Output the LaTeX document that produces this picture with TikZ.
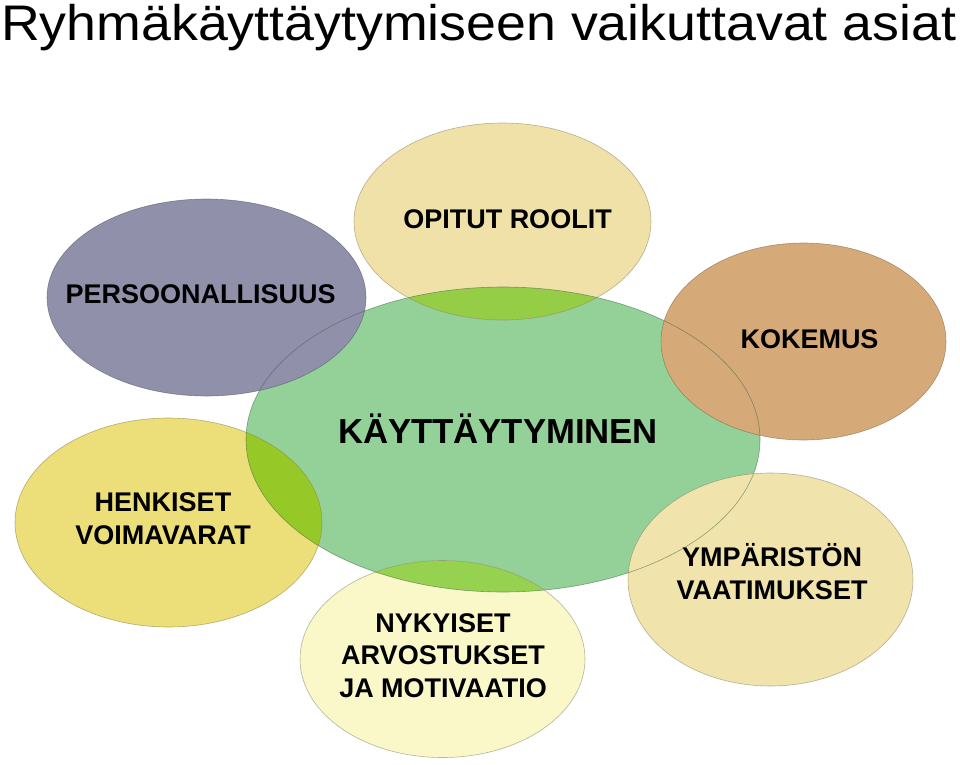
\documentclass[tikz,border=0pt]{standalone}
\usepackage{fontspec}
\setmainfont{Liberation Sans}
\definecolor{cgreen}{RGB}{147,209,153}
\definecolor{cpurple}{RGB}{144,144,170}
\definecolor{ctan}{RGB}{214,170,120}
\definecolor{cbeige}{RGB}{240,225,168}
\definecolor{cbeigeb}{RGB}{240,228,172}
\definecolor{cyellow}{RGB}{236,222,120}
\definecolor{cpale}{RGB}{250,248,200}
\definecolor{ovyellow}{RGB}{150,200,40}
\definecolor{ovbeige}{RGB}{150,205,70}
\definecolor{ovpale}{RGB}{150,210,80}
\tikzset{
  lbl/.style={font=\bfseries\fontsize{27}{32.5}\selectfont, align=center, inner sep=0pt},
  edge/.style={line width=0.6pt, draw opacity=0.55},
}
\newcommand{\ellC}{(503,439.5) ellipse [x radius=257pt, y radius=152.5pt]}
\newcommand{\ellO}{(502.5,221.5) ellipse [x radius=148.5pt, y radius=98.5pt]}
\newcommand{\ellP}{(206.5,297.5) ellipse [x radius=159.5pt, y radius=98.5pt]}
\newcommand{\ellK}{(803.5,341.5) ellipse [x radius=142.5pt, y radius=98.5pt]}
\newcommand{\ellH}{(168.5,522.5) ellipse [x radius=153.5pt, y radius=104.5pt]}
\newcommand{\ellN}{(442.5,659) ellipse [x radius=142.5pt, y radius=98.5pt]}
\newcommand{\ellY}{(770.5,579.5) ellipse [x radius=142.5pt, y radius=106.5pt]}
\begin{document}
\begin{tikzpicture}[x=1pt,y=-1pt]
\useasboundingbox[fill=white] (0,0) rectangle (960,764);
% fills
\fill[cgreen] \ellC;
\fill[cbeige] \ellO;
\fill[cyellow] \ellH;
\fill[cpale] \ellN;
\begin{scope}
  \clip \ellC;
  \fill[ovbeige] \ellO;
  \fill[ovyellow] \ellH;
  \fill[ovpale] \ellN;
\end{scope}
\fill[cpurple] \ellP;
\fill[ctan] \ellK;
\fill[cbeigeb] \ellY;
% outlines
\draw[edge, draw=cgreen!45!black] \ellC;
\draw[edge, draw=cbeige!55!black] \ellO;
\draw[edge, draw=cpurple!55!black] \ellP;
\draw[edge, draw=ctan!55!black] \ellK;
\draw[edge, draw=cyellow!55!black] \ellH;
\draw[edge, draw=cpale!50!black] \ellN;
\draw[edge, draw=cbeigeb!55!black] \ellY;
% texts
\node[anchor=base west, inner sep=0pt, font=\fontsize{50}{60}\selectfont] (title) at (1,40) {\scalebox{1.074}[1]{Ryhmäkäyttäytymiseen vaikuttavat asiat}};
\node[lbl, anchor=base] (opitut) at (507.5,228) {OPITUT ROOLIT};
\node[lbl, anchor=base] (pers) at (200.7,303) {PERSOONALLISUUS};
\node[lbl, anchor=base] (kok) at (809.5,348) {KOKEMUS};
\node[lbl, anchor=base, font=\bfseries\fontsize{34.7}{40}\selectfont] (kayt) at (498,443) {KÄYTTÄYTYMINEN};
\node[lbl, anchor=base] (henk) at (163,544) {HENKISET\\VOIMAVARAT};
\node[lbl, anchor=base] (ymp) at (772,599) {YMPÄRISTÖN\\VAATIMUKSET};
\node[lbl, anchor=base] (nyk) at (443,697) {NYKYISET\\ARVOSTUKSET\\JA MOTIVAATIO};
\end{tikzpicture}
\end{document}
